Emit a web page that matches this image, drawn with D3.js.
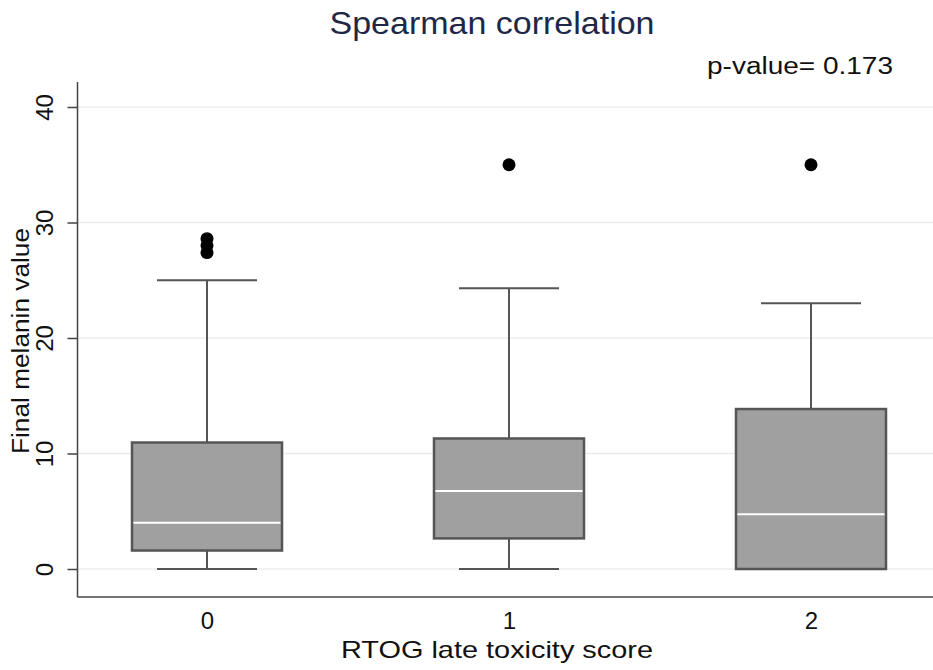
<!DOCTYPE html>
<html>
<head>
<meta charset="utf-8">
<script src="https://cdn.jsdelivr.net/npm/d3@7"></script>
<style>
  html, body { margin: 0; padding: 0; background: #fff; }
  svg { display: block; font-family: Arial, "Liberation Sans", sans-serif; }
</style>
</head>
<body>
<svg id="chart" width="933" height="670"></svg>
<script>
// RTOG late toxicity score groups
const categories = ["0", "1", "2"];

// Box statistics of final melanin value per group
const lowerWhisker = [0, 0, 0];
const q1 = [1.6, 2.65, 0];
const median = [4.0, 6.75, 4.75];
const q3 = [10.95, 11.3, 13.85];
const upperWhisker = [25.0, 24.3, 23.0];
const outliers = [[27.4, 28.0, 28.6], [35], [35]];

const yTicks = [0, 10, 20, 30, 40];

const titleText = "Spearman correlation";
const pValueText = "p-value= 0.173";
const xTitle = "RTOG late toxicity score";
const yTitle = "Final melanin value";

const W = 933, H = 670;
const plot = { left: 77.5, right: 933, top: 82, bottom: 597 };

const svg = d3.select("#chart");

const x = d3.scalePoint().domain(categories).range([207, 811]);
const y = d3.scaleLinear().domain([0, 40]).range([569, 107]);

const boxW = 150, capW = 100;

// horizontal grid
svg.append("g").selectAll("line").data(yTicks).join("line")
  .attr("x1", plot.left).attr("x2", plot.right)
  .attr("y1", d => y(d)).attr("y2", d => y(d))
  .attr("stroke", "#ececec").attr("stroke-width", 1.5);

// y axis
const yAxis = svg.append("g")
  .attr("transform", `translate(${plot.left},0)`)
  .call(d3.axisLeft(y).tickValues(yTicks).tickSize(10).tickSizeOuter(0).tickPadding(0));
yAxis.select(".domain").remove();
yAxis.selectAll(".tick line").attr("stroke", "#444").attr("stroke-width", 1.5);
yAxis.selectAll(".tick text")
  .attr("font-size", 24).attr("fill", "#111")
  .attr("text-anchor", "middle")
  .attr("x", 0).attr("dy", 0)
  .attr("transform", "translate(-31,0) rotate(-90)")
  .attr("dominant-baseline", "middle");
svg.append("line")
  .attr("x1", plot.left).attr("x2", plot.left)
  .attr("y1", plot.top).attr("y2", plot.bottom)
  .attr("stroke", "#444").attr("stroke-width", 1.5);

// x axis
const xAxis = svg.append("g")
  .attr("transform", `translate(0,${plot.bottom})`)
  .call(d3.axisBottom(x).tickSize(0).tickPadding(15));
xAxis.select(".domain").remove();
xAxis.selectAll(".tick text").attr("font-size", 24).attr("fill", "#111");
svg.append("line")
  .attr("x1", plot.left).attr("x2", plot.right)
  .attr("y1", plot.bottom).attr("y2", plot.bottom)
  .attr("stroke", "#444").attr("stroke-width", 1.5);

// boxes
const groups = svg.append("g").selectAll("g").data(categories).join("g");

groups.append("line")
  .attr("x1", d => x(d)).attr("x2", d => x(d))
  .attr("y1", (d, i) => y(q3[i])).attr("y2", (d, i) => y(upperWhisker[i]))
  .attr("stroke", "#555").attr("stroke-width", 2);
groups.append("line")
  .attr("x1", d => x(d)).attr("x2", d => x(d))
  .attr("y1", (d, i) => y(q1[i])).attr("y2", (d, i) => y(lowerWhisker[i]))
  .attr("stroke", "#555").attr("stroke-width", 2);
groups.append("line")
  .attr("x1", d => x(d) - capW / 2).attr("x2", d => x(d) + capW / 2)
  .attr("y1", (d, i) => y(upperWhisker[i])).attr("y2", (d, i) => y(upperWhisker[i]))
  .attr("stroke", "#555").attr("stroke-width", 2);
groups.append("line")
  .attr("x1", d => x(d) - capW / 2).attr("x2", d => x(d) + capW / 2)
  .attr("y1", (d, i) => y(lowerWhisker[i])).attr("y2", (d, i) => y(lowerWhisker[i]))
  .attr("stroke", "#555").attr("stroke-width", 2);
groups.append("rect")
  .attr("x", d => x(d) - boxW / 2).attr("width", boxW)
  .attr("y", (d, i) => y(q3[i])).attr("height", (d, i) => y(q1[i]) - y(q3[i]))
  .attr("fill", "#a0a0a0").attr("stroke", "#555").attr("stroke-width", 2.5);
groups.append("line")
  .attr("x1", d => x(d) - boxW / 2 + 1.5).attr("x2", d => x(d) + boxW / 2 - 1.5)
  .attr("y1", (d, i) => y(median[i])).attr("y2", (d, i) => y(median[i]))
  .attr("stroke", "#fff").attr("stroke-width", 2);

// outside values
groups.selectAll("circle").data((d, i) => outliers[i].map(v => ({ c: d, v }))).join("circle")
  .attr("cx", p => x(p.c)).attr("cy", p => y(p.v)).attr("r", 6.5)
  .attr("fill", "#000");

// titles
svg.append("text")
  .attr("x", 492).attr("y", 34)
  .attr("text-anchor", "middle").attr("font-size", 32).attr("fill", "#1e2846")
  .attr("textLength", 325).attr("lengthAdjust", "spacingAndGlyphs")
  .text(titleText);
svg.append("text")
  .attr("x", 800).attr("y", 74)
  .attr("text-anchor", "middle").attr("font-size", 23).attr("fill", "#111")
  .attr("textLength", 186).attr("lengthAdjust", "spacingAndGlyphs")
  .text(pValueText);
svg.append("text")
  .attr("x", 497).attr("y", 658)
  .attr("text-anchor", "middle").attr("font-size", 24).attr("fill", "#111")
  .attr("textLength", 312).attr("lengthAdjust", "spacingAndGlyphs")
  .text(xTitle);
svg.append("text")
  .attr("transform", "translate(29,341) rotate(-90)")
  .attr("text-anchor", "middle").attr("font-size", 23).attr("fill", "#111")
  .attr("textLength", 226).attr("lengthAdjust", "spacingAndGlyphs")
  .text(yTitle);
</script>
</body>
</html>
